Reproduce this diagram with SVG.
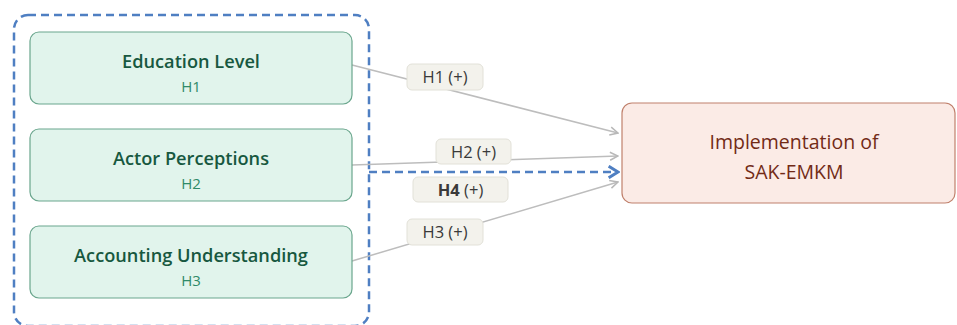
<svg xmlns="http://www.w3.org/2000/svg" width="957" height="325" viewBox="0 0 957 325">
<defs>
<marker id="ag" viewBox="0 0 10 10" refX="9" refY="5" markerWidth="10" markerHeight="10" markerUnits="userSpaceOnUse" orient="auto">
<path d="M1,1 L9,5 L1,9" fill="none" stroke="#b8b8b8" stroke-width="1.5"/>
</marker>
<marker id="ab" viewBox="0 0 12 12" refX="10" refY="6" markerWidth="14" markerHeight="14" markerUnits="userSpaceOnUse" orient="auto">
<path d="M2,1 L10,6 L2,11" fill="none" stroke="#4f7fc2" stroke-width="2.5"/>
</marker>
</defs>
<style>
.src{fill:#e1f4ec;stroke:#6aa68d;stroke-width:1.2}
.t1{font-family:"Open Sans","Noto Sans",sans-serif;font-size:18.2px;font-weight:600;fill:#175840;text-anchor:middle}
.t2{font-family:"Open Sans","Noto Sans",sans-serif;font-size:15px;fill:#2f8a68;text-anchor:middle}
.tgt{fill:#fbebe6;stroke:#c0806c;stroke-width:1.2}
.tt{font-family:"Open Sans","Noto Sans",sans-serif;font-size:19.5px;fill:#722a16;text-anchor:middle}
.lb{fill:#f3f2ec;stroke:#e2e1d8;stroke-width:1}
.lt{font-family:"Open Sans","Noto Sans",sans-serif;font-size:16.5px;fill:#3a3a3a;text-anchor:middle}
.ln{fill:none;stroke:#bdbdbd;stroke-width:1.5}
</style>
<g id="group">
<rect x="14" y="15" width="355" height="311" rx="14" fill="none" stroke="#4f7fc2" stroke-width="2.5" stroke-dasharray="8,5"/>
</g>
<g id="connectors">
<line class="ln" x1="352" y1="65" x2="618" y2="133" marker-end="url(#ag)"/>
<line class="ln" x1="352" y1="165" x2="618" y2="156" marker-end="url(#ag)"/>
<line class="ln" x1="352" y1="261" x2="618" y2="182" marker-end="url(#ag)"/>
<line x1="369" y1="172" x2="618" y2="172" fill="none" stroke="#4f7fc2" stroke-width="2.5" stroke-dasharray="8,5" marker-end="url(#ab)"/>
<g id="l1"><rect class="lb" x="407" y="64" width="76" height="26" rx="5"/><text class="lt" x="445" y="83">H1 (+)</text></g>
<g id="l2"><rect class="lb" x="436" y="139" width="75" height="25" rx="5"/><text class="lt" x="473.5" y="157.5">H2 (+)</text></g>
<g id="l4"><rect class="lb" x="413" y="177" width="95" height="25" rx="5"/><text class="lt" x="460.5" y="195.5"><tspan font-weight="700">H4</tspan> (+)</text></g>
<g id="l3"><rect class="lb" x="407" y="219" width="76" height="26" rx="5"/><text class="lt" x="445" y="238">H3 (+)</text></g>
</g>
<g id="n1"><rect class="src" x="30" y="32" width="322" height="72" rx="9"/><text class="t1" x="191" y="68">Education Level</text><text class="t2" x="191" y="92">H1</text></g>
<g id="n2"><rect class="src" x="30" y="129" width="322" height="72" rx="9"/><text class="t1" x="191" y="165">Actor Perceptions</text><text class="t2" x="191" y="189">H2</text></g>
<g id="n3"><rect class="src" x="30" y="226" width="322" height="72" rx="9"/><text class="t1" x="191" y="262">Accounting Understanding</text><text class="t2" x="191" y="286">H3</text></g>
<g id="target"><rect class="tgt" x="622" y="103" width="333" height="100" rx="10"/><text class="tt" x="794" y="149">Implementation of</text><text class="tt" x="794" y="179">SAK-EMKM</text></g>
</svg>
